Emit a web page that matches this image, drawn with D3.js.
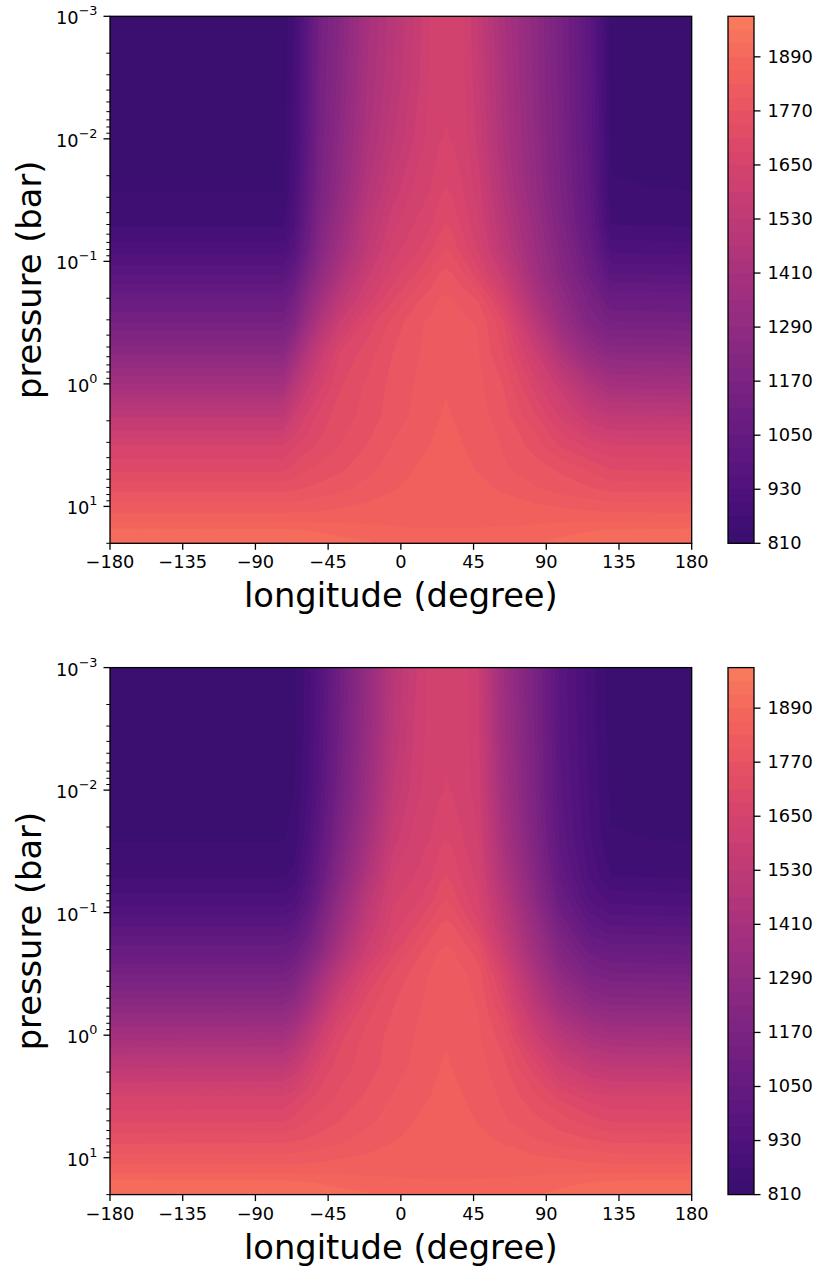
<!DOCTYPE html>
<html lang="en">

<head>
  <meta charset="utf-8">
  <title>Temperature maps</title>
  <script src="https://d3js.org/d3.v7.min.js"></script>
  <style>
    body { margin: 0; background: #fff; }
    text { font-family: "DejaVu Sans", sans-serif; fill: #000; }
  </style>
</head>

<body>
  <svg width="819" height="1270" id="mainsvg"></svg>
  <script>
    // grid columns (degree) and rows (log10 of pressure in bar)
    const lons = [-180, -73, -66, -58, -50, -38, -21, -5, 8, 18, 24, 28, 32, 38, 48, 63, 82, 99, 117, 130, 180];
    const logPs = [-3, -2.5, -2, -1.6, -1.3, -1.1, -0.9, -0.7, -0.5, -0.25, 0, 0.25, 0.5, 0.7, 0.85, 1, 1.1, 1.2, 1.3];

    // temperature, one line per pressure row
    const tempUpper = [
      [820, 820, 870, 990, 1130, 1230, 1400, 1490, 1560, 1620, 1635, 1640, 1638, 1630, 1555, 1420, 1280, 1150, 1000, 825, 820],
      [822, 822, 880, 1000, 1140, 1245, 1410, 1500, 1570, 1625, 1640, 1645, 1642, 1632, 1565, 1430, 1285, 1155, 1005, 828, 822],
      [830, 830, 885, 1010, 1150, 1265, 1430, 1525, 1590, 1632, 1648, 1652, 1648, 1638, 1580, 1440, 1295, 1160, 1010, 835, 830],
      [838, 838, 900, 1030, 1165, 1290, 1465, 1570, 1625, 1648, 1672, 1682, 1672, 1652, 1605, 1465, 1310, 1170, 1020, 842, 838],
      [865, 865, 925, 1060, 1200, 1330, 1510, 1610, 1650, 1675, 1700, 1712, 1700, 1675, 1625, 1495, 1340, 1190, 1035, 870, 865],
      [915, 915, 965, 1095, 1235, 1370, 1530, 1635, 1670, 1700, 1730, 1742, 1730, 1695, 1645, 1520, 1360, 1215, 1065, 920, 915],
      [985, 985, 1040, 1170, 1290, 1430, 1580, 1665, 1705, 1745, 1770, 1778, 1770, 1745, 1690, 1580, 1385, 1240, 1100, 990, 985],
      [1070, 1070, 1130, 1260, 1370, 1510, 1630, 1705, 1755, 1785, 1800, 1803, 1800, 1788, 1765, 1650, 1440, 1290, 1155, 1075, 1070],
      [1140, 1140, 1200, 1340, 1460, 1590, 1690, 1750, 1790, 1806, 1812, 1813, 1812, 1808, 1798, 1720, 1520, 1340, 1200, 1145, 1140],
      [1255, 1255, 1350, 1470, 1575, 1680, 1725, 1770, 1795, 1808, 1815, 1818, 1815, 1810, 1802, 1740, 1610, 1450, 1310, 1260, 1255],
      [1385, 1385, 1480, 1575, 1640, 1705, 1745, 1780, 1800, 1812, 1823, 1827, 1823, 1812, 1808, 1770, 1670, 1570, 1450, 1390, 1385],
      [1520, 1520, 1590, 1650, 1690, 1725, 1750, 1785, 1805, 1820, 1829, 1834, 1829, 1820, 1812, 1785, 1715, 1640, 1560, 1525, 1520],
      [1650, 1650, 1675, 1700, 1715, 1740, 1770, 1802, 1822, 1830, 1838, 1842, 1838, 1831, 1820, 1798, 1760, 1705, 1670, 1652, 1650],
      [1705, 1705, 1720, 1738, 1750, 1765, 1790, 1815, 1830, 1836, 1840, 1843, 1840, 1838, 1828, 1805, 1785, 1765, 1735, 1710, 1705],
      [1758, 1758, 1765, 1772, 1780, 1790, 1812, 1828, 1835, 1840, 1843, 1845, 1843, 1842, 1838, 1826, 1805, 1785, 1772, 1760, 1758],
      [1812, 1812, 1814, 1816, 1820, 1828, 1835, 1840, 1843, 1845, 1845, 1845, 1845, 1845, 1845, 1842, 1836, 1828, 1820, 1814, 1812],
      [1847, 1847, 1847, 1847, 1847, 1848, 1848, 1849, 1850, 1850, 1850, 1850, 1850, 1850, 1850, 1850, 1850, 1850, 1849, 1848, 1847],
      [1899, 1898, 1895, 1892, 1888, 1882, 1875, 1868, 1864, 1863, 1863, 1863, 1863, 1863, 1864, 1866, 1872, 1882, 1890, 1896, 1899],
      [1912, 1912, 1910, 1908, 1905, 1900, 1894, 1880, 1872, 1870, 1870, 1870, 1870, 1870, 1872, 1878, 1888, 1898, 1904, 1910, 1912]
    ];

    // same grid, lower panel
    const tempLower = [
      [820, 820, 832, 880, 957, 1105, 1305, 1490, 1580, 1630, 1640, 1645, 1643, 1635, 1590, 1360, 1170, 980, 885, 825, 820],
      [822, 822, 835, 885, 965, 1115, 1315, 1500, 1590, 1632, 1642, 1646, 1644, 1636, 1595, 1370, 1175, 985, 888, 828, 822],
      [830, 830, 840, 895, 980, 1135, 1340, 1530, 1605, 1636, 1646, 1652, 1648, 1640, 1605, 1390, 1185, 995, 895, 835, 830],
      [838, 838, 852, 920, 1015, 1180, 1390, 1575, 1632, 1650, 1672, 1682, 1672, 1652, 1620, 1420, 1205, 1010, 905, 842, 838],
      [865, 865, 880, 955, 1060, 1235, 1450, 1620, 1650, 1675, 1700, 1712, 1700, 1675, 1640, 1460, 1240, 1040, 925, 870, 865],
      [915, 915, 930, 1000, 1110, 1295, 1510, 1645, 1670, 1700, 1730, 1742, 1730, 1695, 1655, 1500, 1280, 1080, 960, 920, 915],
      [985, 985, 1005, 1075, 1185, 1350, 1550, 1665, 1705, 1745, 1770, 1778, 1770, 1745, 1685, 1540, 1330, 1140, 1020, 990, 985],
      [1065, 1065, 1085, 1150, 1250, 1420, 1600, 1695, 1750, 1785, 1800, 1804, 1800, 1788, 1750, 1590, 1380, 1200, 1095, 1070, 1065],
      [1140, 1140, 1170, 1260, 1370, 1520, 1670, 1745, 1780, 1803, 1812, 1813, 1812, 1806, 1785, 1660, 1440, 1270, 1170, 1145, 1140],
      [1255, 1255, 1290, 1375, 1480, 1625, 1725, 1768, 1792, 1808, 1815, 1818, 1815, 1810, 1798, 1710, 1520, 1370, 1285, 1258, 1255],
      [1385, 1390, 1430, 1510, 1600, 1700, 1750, 1780, 1800, 1812, 1823, 1827, 1823, 1812, 1805, 1755, 1610, 1490, 1420, 1390, 1385],
      [1520, 1525, 1560, 1620, 1680, 1725, 1755, 1785, 1805, 1820, 1829, 1834, 1829, 1820, 1812, 1780, 1695, 1600, 1545, 1525, 1520],
      [1650, 1652, 1670, 1700, 1720, 1745, 1775, 1802, 1822, 1830, 1838, 1842, 1838, 1831, 1820, 1795, 1750, 1700, 1665, 1652, 1650],
      [1705, 1707, 1720, 1738, 1752, 1770, 1792, 1815, 1830, 1836, 1840, 1843, 1840, 1838, 1828, 1805, 1780, 1755, 1725, 1707, 1705],
      [1758, 1760, 1765, 1772, 1780, 1792, 1812, 1828, 1835, 1840, 1843, 1845, 1843, 1842, 1838, 1826, 1803, 1782, 1770, 1760, 1758],
      [1812, 1813, 1814, 1816, 1820, 1828, 1835, 1840, 1843, 1845, 1845, 1845, 1845, 1845, 1845, 1842, 1836, 1828, 1820, 1814, 1812],
      [1847, 1847, 1847, 1847, 1847, 1848, 1848, 1849, 1850, 1850, 1850, 1850, 1850, 1850, 1850, 1850, 1850, 1850, 1849, 1848, 1847],
      [1899, 1898, 1895, 1892, 1888, 1882, 1875, 1868, 1864, 1863, 1863, 1863, 1863, 1863, 1864, 1866, 1872, 1882, 1890, 1896, 1899],
      [1912, 1912, 1910, 1908, 1905, 1900, 1894, 1880, 1872, 1870, 1870, 1870, 1870, 1870, 1872, 1878, 1888, 1898, 1904, 1910, 1912]
    ];

    const lonTicks = [-180, -135, -90, -45, 0, 45, 90, 135, 180];
    const pressureTicks = [1e-3, 1e-2, 1e-1, 1, 10];
    const colorTicks = [810, 930, 1050, 1170, 1290, 1410, 1530, 1650, 1770, 1890];
    const levels = d3.range(810, 1981, 30);

    const svg = d3.select('#mainsvg');
    const plotLeft = 110, plotRight = 691.7, plotHeight = 527;
    const barLeft = 728, barRight = 754;
    const tickFont = 17.8, labelFont = 33.7;

    // magma cut to the part the figure uses, coloured by band middle
    const bandColor = lo => d3.interpolateMagma(0.2 + (lo + 15 - 825) / (1965 - 825) * 0.52);

    // minor ticks of the log axis: 2..9 in every decade, up to 20 bar
    const minorTicks = [];
    d3.range(-3, 2).forEach(e => d3.range(2, 10).forEach(m => {
      const v = m * Math.pow(10, e);
      if (v <= 20) minorTicks.push(v);
    }));

    const expText = d => Math.round(Math.log10(d)).toString().replace('-', '\u2212');

    function drawPanel(temp, top) {
      const bottom = top + plotHeight;
      const g = svg.append('g');

      const xScale = d3.scaleLinear().domain([-180, 180]).range([plotLeft, plotRight]);
      const yScale = d3.scaleLog().domain([1e-3, 20]).range([top, bottom]);
      const cScale = d3.scaleLinear().domain([810, 1980]).range([bottom, top]);

      // contour coordinates are in cells, grid point i sits at i + 0.5
      const nx = lons.length, ny = logPs.length;
      const lonOf = d3.scaleLinear().domain(d3.range(nx)).range(lons).clamp(true);
      const logPOf = d3.scaleLinear().domain(d3.range(ny)).range(logPs).clamp(true);
      const toPlot = d3.geoTransform({
        point(x, y) {
          this.stream.point(xScale(lonOf(x - 0.5)), yScale(Math.pow(10, logPOf(y - 0.5))));
        }
      });
      const path = d3.geoPath(toPlot);
      const contours = d3.contours().size([nx, ny]).thresholds(levels);

      g.append('rect')
        .attr('x', plotLeft).attr('y', top)
        .attr('width', plotRight - plotLeft).attr('height', plotHeight)
        .attr('fill', bandColor(810));
      g.selectAll('.band')
        .data(contours(temp.flat()))
        .enter().append('path')
        .attr('class', 'band')
        .attr('d', path)
        .attr('fill', d => bandColor(d.value));

      // colorbar, each band painted from its low edge up to the top so no seams show
      g.selectAll('.cbar')
        .data(levels.slice(0, -1))
        .enter().append('rect')
        .attr('class', 'cbar')
        .attr('x', barLeft)
        .attr('width', barRight - barLeft)
        .attr('y', top)
        .attr('height', d => cScale(d) - top)
        .attr('fill', bandColor);

      // axes
      const xAxis = d3.axisBottom(xScale).tickValues(lonTicks).tickSize(6.5).tickPadding(6).tickFormat(d3.format('d')).offset(0);
      const xGroup = g.append('g').attr('transform', `translate(0, ${bottom})`).call(xAxis);

      const yMinor = d3.axisLeft(yScale).tickValues(minorTicks).tickSize(3.7).tickFormat('').offset(0);
      const yMinorGroup = g.append('g').attr('transform', `translate(${plotLeft}, 0)`).call(yMinor);

      const yAxis = d3.axisLeft(yScale).tickValues(pressureTicks).tickSize(6.5).tickPadding(6).tickFormat('').offset(0);
      const yGroup = g.append('g').attr('transform', `translate(${plotLeft}, 0)`).call(yAxis);
      yGroup.selectAll('.tick text').each(function (d) {
        const t = d3.select(this).attr('dy', 8).attr('text-anchor', 'end');
        t.append('tspan').text('10');
        t.append('tspan').text(expText(d)).attr('dy', -9).attr('font-size', tickFont * 0.72);
      });

      const cAxis = d3.axisRight(cScale).tickValues(colorTicks).tickSize(6.5).tickPadding(7).tickFormat(d3.format('d')).offset(0);
      const cGroup = g.append('g').attr('transform', `translate(${barRight}, 0)`).call(cAxis);

      [xGroup, yMinorGroup, yGroup, cGroup].forEach(a => {
        a.selectAll('.domain').remove();
        a.selectAll('.tick line').attr('stroke', '#000').attr('stroke-width', 1.3);
        a.selectAll('.tick text').attr('font-size', tickFont).attr('font-family', null).style('fill', '#000');
      });
      yMinorGroup.selectAll('.tick line').attr('stroke-width', 1);

      // frames
      g.append('rect')
        .attr('x', plotLeft).attr('y', top)
        .attr('width', plotRight - plotLeft).attr('height', plotHeight)
        .attr('fill', 'none').attr('stroke', '#000').attr('stroke-width', 1.3);
      g.append('rect')
        .attr('x', barLeft).attr('y', top)
        .attr('width', barRight - barLeft).attr('height', plotHeight)
        .attr('fill', 'none').attr('stroke', '#000').attr('stroke-width', 1.3);

      // axis labels
      g.append('text').text('longitude (degree)')
        .attr('x', (plotLeft + plotRight) / 2)
        .attr('y', bottom + 64)
        .attr('text-anchor', 'middle')
        .attr('font-size', labelFont);
      g.append('text').text('pressure (bar)')
        .attr('transform', `translate(41, ${top + plotHeight / 2}) rotate(-90)`)
        .attr('text-anchor', 'middle')
        .attr('font-size', labelFont);
    }

    drawPanel(tempUpper, 16.3);
    drawPanel(tempLower, 667.6);
  </script>
</body>

</html>
